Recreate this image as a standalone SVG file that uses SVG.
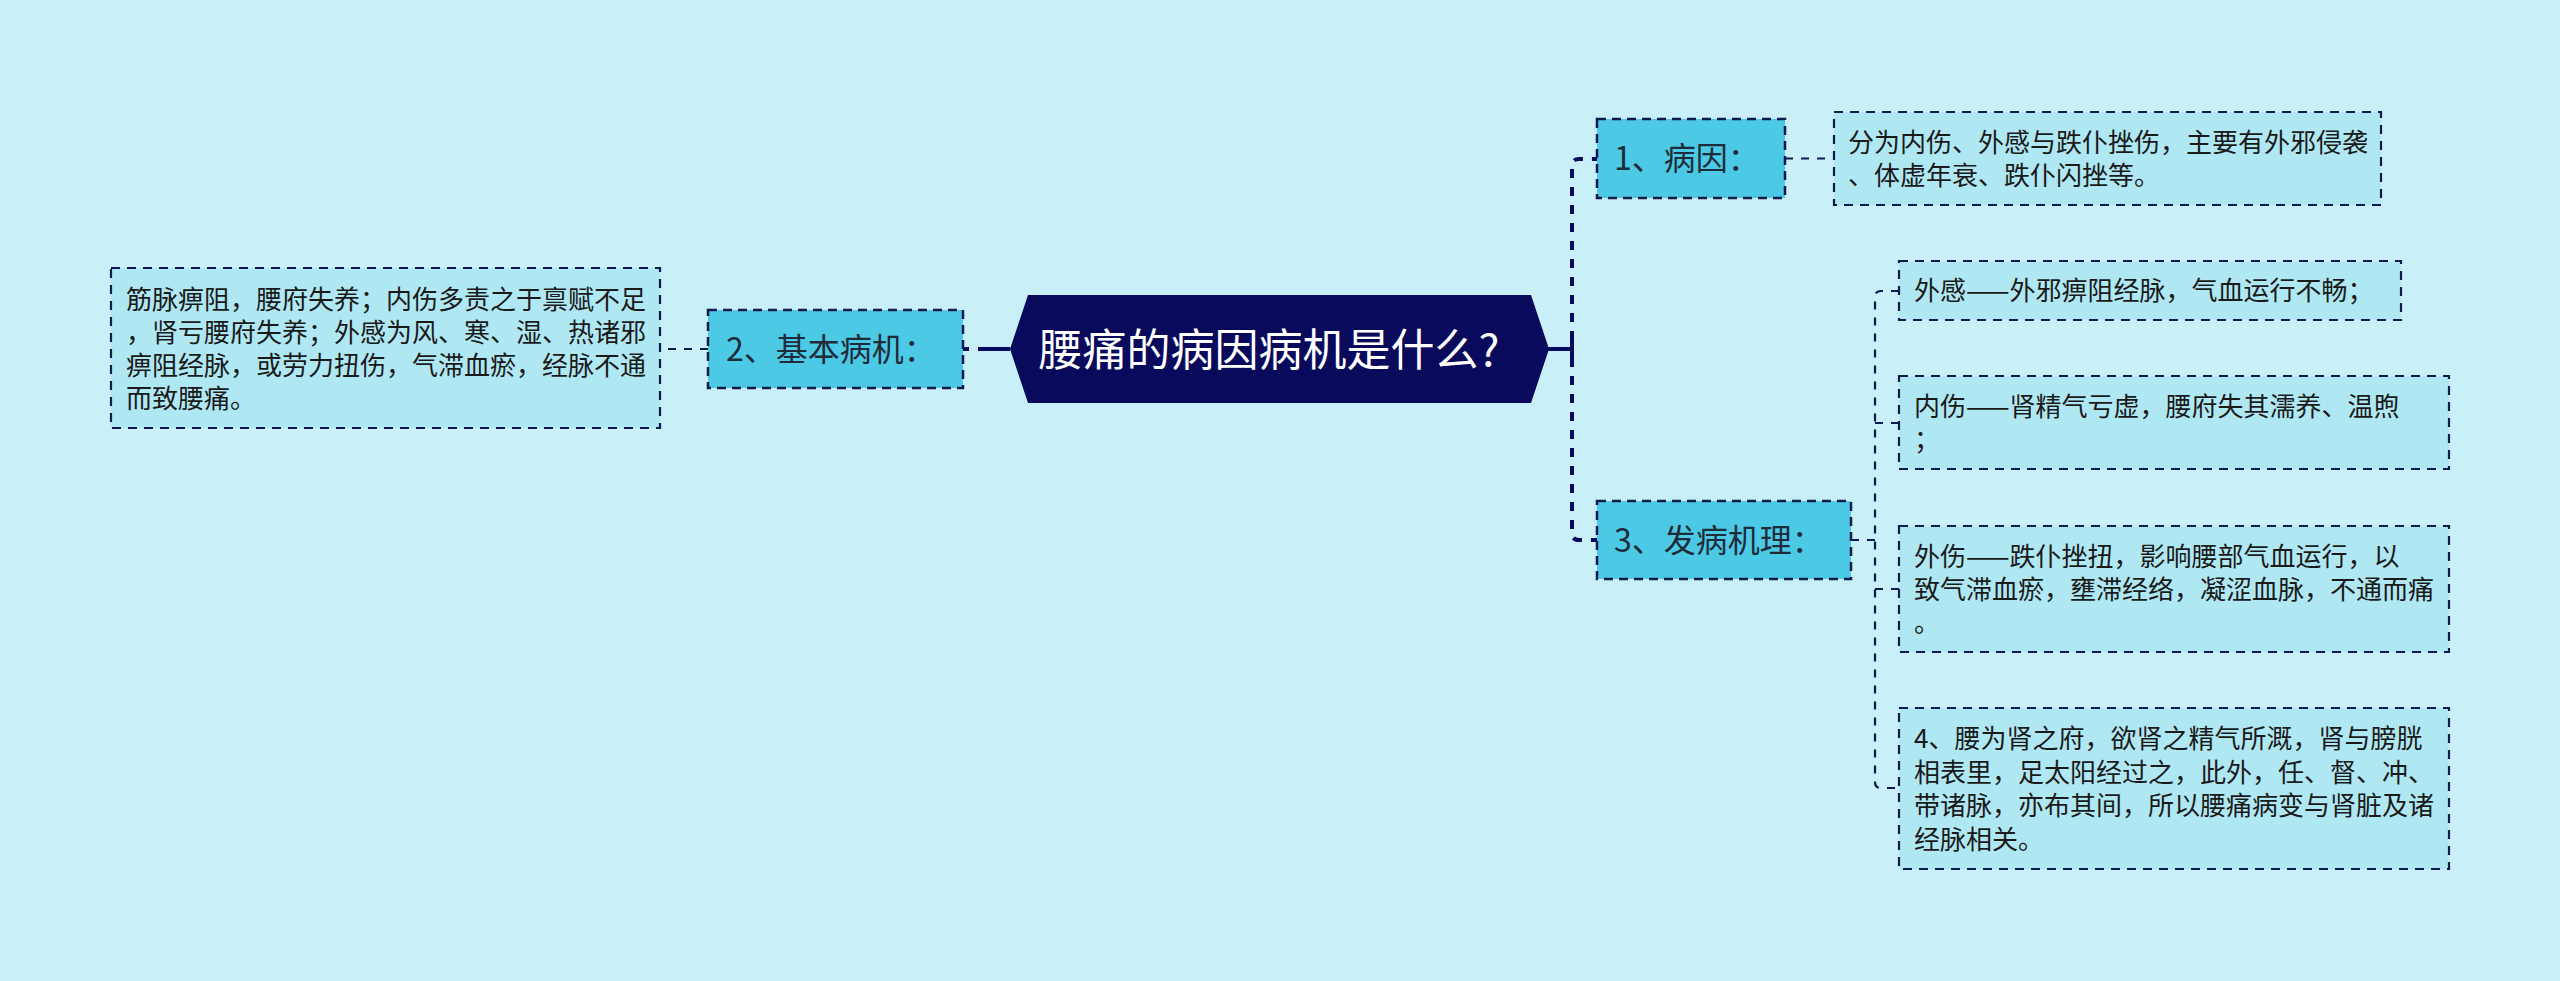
<svg xmlns="http://www.w3.org/2000/svg" width="2560" height="981" viewBox="0 0 2560 981">
<defs>
<style>
.bg{fill:#C9F0F8}
.center{fill:#0A0A5C}
.ctext{font-family:"Noto Sans CJK SC",sans-serif;font-size:44px;fill:#FFFFFF}
.node{fill:#4CC9E4;stroke:#0E1A4E;stroke-width:2.5;stroke-dasharray:9 6}
.ntext{font-family:"Noto Sans CJK SC",sans-serif;font-size:32px;fill:#1E2B3A}
.box{fill:#AFE8F3;stroke:#0E1A4E;stroke-width:2.2;stroke-dasharray:9 7}
.btext{font-family:"Noto Sans CJK SC",sans-serif;font-size:26px;fill:#1A1A1A}
.thick{fill:none;stroke:#0A0A5C;stroke-width:4}
.spine{fill:none;stroke:#0A0A5C;stroke-width:4;stroke-dasharray:9 9}
.thin{fill:none;stroke:#0E1A4E;stroke-width:2.2;stroke-dasharray:8 8}
</style>
</defs>
<rect class="bg" x="0" y="0" width="2560" height="981"/>
<g id="connectors">
<path class="thick" d="M1010,349 L978,349" />
<path class="thick" d="M969,349 L963,349" />
<path class="thick" d="M1548,349 L1572,349" />
<path class="thick" d="M1572,340 L1572,358" />
<path class="spine" d="M1572,340 L1572,166 Q1572,159 1579,159 L1597,159" />
<path class="spine" d="M1572,358 L1572,533 Q1572,540 1579,540 L1597,540" />
<path class="thin" d="M1785,158.5 L1834,158.5" />
<path class="thin" d="M708,349 L660,349" />
<path class="thin" d="M1851,540 L1875,540" />
<path class="thin" d="M1899,291 L1881,291 Q1875,291 1875,297 L1875,782 Q1875,788 1881,788 L1899,788" />
<path class="thin" d="M1875,423 L1899,423" />
<path class="thin" d="M1875,589 L1899,589" />
</g>
<g id="root">
<polygon class="center" points="1010,349 1028,295 1531,295 1549,349 1531,403 1028,403"/>
<text class="ctext" x="1269" y="366" text-anchor="middle">腰痛的病因病机是什么?</text>
</g>
<g id="node-2">
<rect class="node" x="708" y="310" width="255" height="78"/>
<text class="ntext" x="726" y="361">2、基本病机：</text>
</g>
<g id="text-left">
<rect class="box" x="111" y="268" width="549" height="160"/>
<text class="btext" x="126" y="309">筋脉痹阻，腰府失养；内伤多责之于禀赋不足</text>
<text class="btext" x="126" y="342">，肾亏腰府失养；外感为风、寒、湿、热诸邪</text>
<text class="btext" x="126" y="375">痹阻经脉，或劳力扭伤，气滞血瘀，经脉不通</text>
<text class="btext" x="126" y="408">而致腰痛。</text>
</g>
<g id="node-1">
<rect class="node" x="1597" y="119" width="188" height="79"/>
<text class="ntext" x="1614" y="170">1、病因：</text>
</g>
<g id="text-1">
<rect class="box" x="1834" y="112" width="547" height="93"/>
<text class="btext" x="1848" y="152">分为内伤、外感与跌仆挫伤，主要有外邪侵袭</text>
<text class="btext" x="1848" y="185">、体虚年衰、跌仆闪挫等。</text>
</g>
<g id="node-3">
<rect class="node" x="1597" y="501" width="254" height="78"/>
<text class="ntext" x="1614" y="552">3、发病机理：</text>
</g>
<g id="text-a">
<rect class="box" x="1899" y="261" width="502" height="59"/>
<text class="btext" x="1914" y="300">外感——外邪痹阻经脉，气血运行不畅；</text>
</g>
<g id="text-b">
<rect class="box" x="1899" y="376" width="550" height="93"/>
<text class="btext" x="1914" y="416">内伤——肾精气亏虚，腰府失其濡养、温煦</text>
<text class="btext" x="1914" y="449">；</text>
</g>
<g id="text-c">
<rect class="box" x="1899" y="526" width="550" height="126"/>
<text class="btext" x="1914" y="566">外伤——跌仆挫扭，影响腰部气血运行，以</text>
<text class="btext" x="1914" y="599">致气滞血瘀，壅滞经络，凝涩血脉，不通而痛</text>
<text class="btext" x="1914" y="632">。</text>
</g>
<g id="text-d">
<rect class="box" x="1899" y="708" width="550" height="161"/>
<text class="btext" x="1914" y="748">4、腰为肾之府，欲肾之精气所溉，肾与膀胱</text>
<text class="btext" x="1914" y="782">相表里，足太阳经过之，此外，任、督、冲、</text>
<text class="btext" x="1914" y="815">带诸脉，亦布其间，所以腰痛病变与肾脏及诸</text>
<text class="btext" x="1914" y="849">经脉相关。</text>
</g>
</svg>
